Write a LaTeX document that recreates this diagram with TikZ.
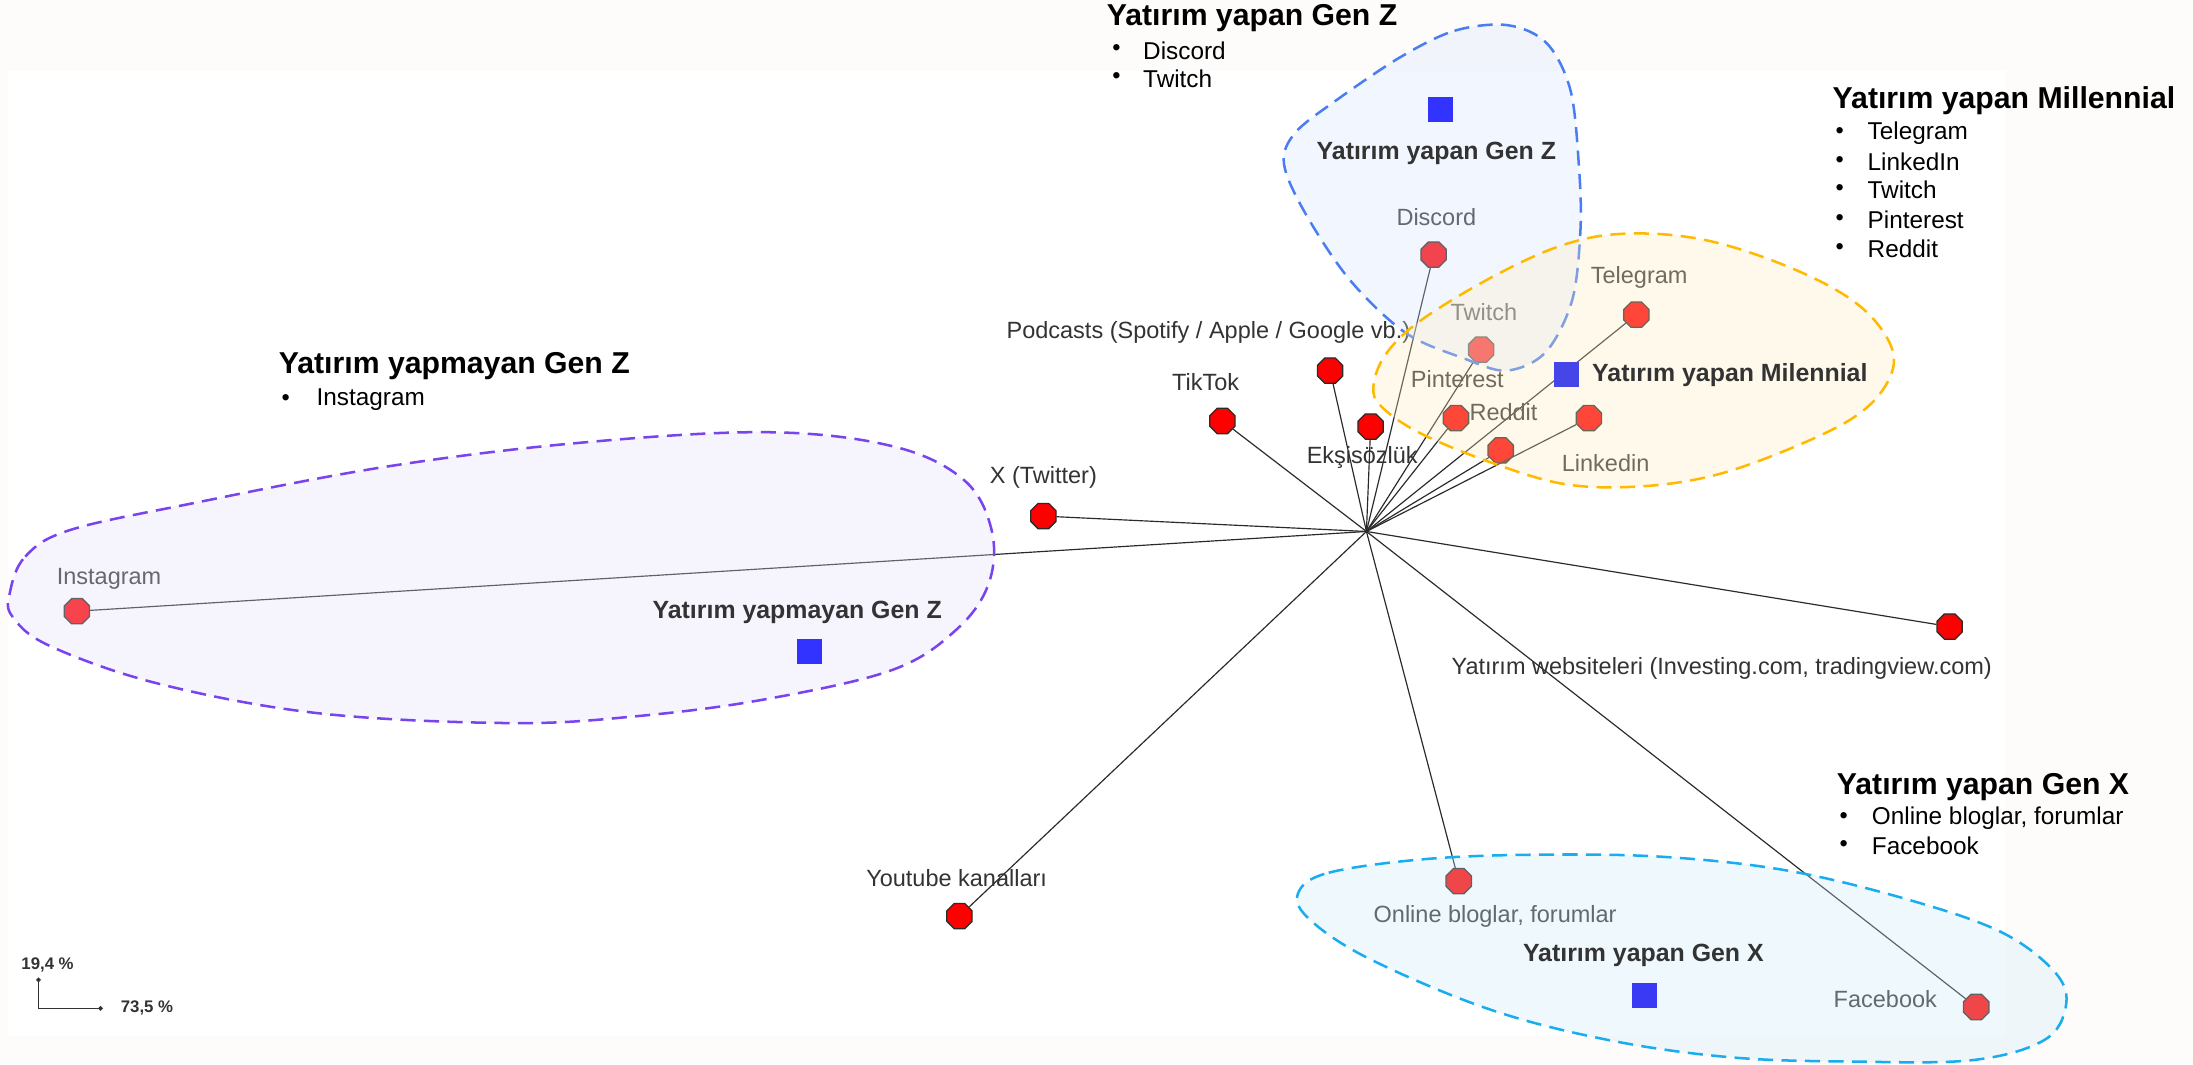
\documentclass[tikz,border=0pt]{standalone}
\usepackage{fontspec}
\setmainfont{Liberation Sans}
\usetikzlibrary{shapes.geometric,arrows.meta}

\definecolor{bgcream}{HTML}{FDFCFA}
\definecolor{edgec}{HTML}{2A2A2A}
\definecolor{lblc}{HTML}{333333}
\definecolor{nodered}{HTML}{FF0000}
\definecolor{sqblue}{HTML}{3333FF}
\definecolor{zline}{HTML}{4A7DF2}
\definecolor{zfill}{RGB}{214,228,252}
\definecolor{mline}{HTML}{FFBA00}
\definecolor{mfill}{RGB}{255,238,192}
\definecolor{pline}{HTML}{7744EE}
\definecolor{pfill}{RGB}{228,222,252}
\definecolor{xline}{HTML}{19ADF0}
\definecolor{xfill}{RGB}{204,234,248}

\tikzset{
  dot/.style={regular polygon, regular polygon sides=8, draw=edgec, fill=nodered, line width=0.45pt, inner sep=0pt, minimum size=9.8pt},
  lbl/.style={font=\fontsize{8.4}{10}\selectfont, text=lblc, inner sep=0pt},
  grp/.style={font=\fontsize{8.9}{11}\selectfont\bfseries, text=lblc, inner sep=0pt},
  sq/.style={rectangle, fill=sqblue, inner sep=0pt, minimum size=9pt},
  link/.style={draw=edgec, line width=0.42pt},
  hdr/.style={font=\fontsize{10.8}{13}\selectfont\bfseries, inner sep=0pt, anchor=west},
  item/.style={font=\fontsize{8.7}{10}\selectfont, inner sep=0pt, anchor=west},
  bul/.style={font=\fontsize{8.4}{10}\selectfont, inner sep=0pt, anchor=west},
  blobfill/.style={fill opacity=0.3},
  blobline/.style={dash pattern=on 5.4pt off 3pt, line width=0.9pt},
  legtxt/.style={font=\fontsize{6}{7}\selectfont\bfseries, text=lblc, inner sep=0pt},
}

\begin{document}
\begin{tikzpicture}[x=0.5pt, y=-0.5pt]
\useasboundingbox (0,0) rectangle (1568,761);
\fill[bgcream] (0,0) rectangle (1568,761);
\fill[white] (6,51) rectangle (1434,741);

% hub
\coordinate (hub) at (977,380);

% nodes
\node[dot] (discord) at (1025,182) {};
\node[dot] (twitch) at (1059,250) {};
\node[dot] (telegram) at (1170,225) {};
\node[dot] (pinterest) at (1041,299) {};
\node[dot] (reddit) at (1073,322) {};
\node[dot] (linkedin) at (1136,299) {};
\node[dot] (podcasts) at (951,265) {};
\node[dot] (tiktok) at (874,301) {};
\node[dot] (eksi) at (980,305) {};
\node[dot] (xtw) at (746,369) {};
\node[dot] (instagram) at (55,437) {};
\node[dot] (websites) at (1394,448) {};
\node[dot] (blogs) at (1043,630) {};
\node[dot] (facebook) at (1413,720) {};
\node[dot] (youtube) at (686,655) {};

% edges
\foreach \n in {discord,twitch,telegram,pinterest,reddit,linkedin,podcasts,tiktok,eksi,xtw,instagram,websites,blogs,facebook,youtube}
  \draw[link] (hub) -- (\n);

% node labels
\node[lbl] (discordL) at (1027,155) {Discord};
\node[lbl] (twitchL) at (1061,223) {Twitch};
\node[lbl] (telegramL) at (1172,198) {Telegram};
\node[lbl] (pinterestL) at (1042,271) {Pinterest};
\node[lbl] (redditL) at (1075,295) {Reddit};
\node[lbl] (linkedinL) at (1148,331) {Linkedin};
\node[lbl] (podcastsL) at (864,238) {Podcasts (Spotify / Apple / Google vb.)};
\node[lbl] (tiktokL) at (862,273) {TikTok};
\node[lbl] (eksiL) at (974,327) {Ekşisözlük};
\node[lbl] (xtwL) at (746,341) {X (Twitter)};
\node[lbl] (instagramL) at (78,414) {Instagram};
\node[lbl] (websitesL) at (1231,478) {Yatırım websiteleri (Investing.com, tradingview.com)};
\node[lbl] (blogsL) at (1069,655) {Online bloglar, forumlar};
\node[lbl] (facebookL) at (1348,714) {Facebook};
\node[lbl] (youtubeL) at (684,628) {Youtube kanalları};

% blobs
\fill[pfill, blobfill] plot[smooth cycle, tension=0.6] coordinates {(7,424) (18,398) (50,379) (137,360) (274,334) (410,317) (547,309) (638,319) (689,343) (709,379) (707,417) (684,450) (638,479) (547,500) (456,512) (365,517) (228,510) (114,489) (36,462) (9,441)};
\draw[pline, blobline] plot[smooth cycle, tension=0.6] coordinates {(7,424) (18,398) (50,379) (137,360) (274,334) (410,317) (547,309) (638,319) (689,343) (709,379) (707,417) (684,450) (638,479) (547,500) (456,512) (365,517) (228,510) (114,489) (36,462) (9,441)};

\fill[zfill, blobfill] plot[smooth cycle, tension=0.55] coordinates {(1001,41) (1040,22) (1078,18) (1106,31) (1123,65) (1129,120) (1130,165) (1124,215) (1105,252) (1077,265) (1046,256) (1005,238) (965,200) (933,152) (918,117) (926,95) (955,72)};
\draw[zline, blobline] plot[smooth cycle, tension=0.55] coordinates {(1001,41) (1040,22) (1078,18) (1106,31) (1123,65) (1129,120) (1130,165) (1124,215) (1105,252) (1077,265) (1046,256) (1005,238) (965,200) (933,152) (918,117) (926,95) (955,72)};

\fill[mfill, blobfill] plot[smooth cycle, tension=0.6] coordinates {(982,276) (991,253) (1016,229) (1067,198) (1118,175) (1164,167) (1221,172) (1284,193) (1330,219) (1353,250) (1348,276) (1323,300) (1272,324) (1221,341) (1169,348) (1118,346) (1067,331) (1016,310) (988,291)};
\draw[mline, blobline] plot[smooth cycle, tension=0.6] coordinates {(982,276) (991,253) (1016,229) (1067,198) (1118,175) (1164,167) (1221,172) (1284,193) (1330,219) (1353,250) (1348,276) (1323,300) (1272,324) (1221,341) (1169,348) (1118,346) (1067,331) (1016,310) (988,291)};

\fill[xfill, blobfill] plot[smooth cycle, tension=0.6] coordinates {(928,639) (950,624) (1022,614) (1109,611) (1195,613) (1281,623) (1367,644) (1432,667) (1470,696) (1477,720) (1461,744) (1410,758) (1324,759) (1238,756) (1152,744) (1066,722) (980,686) (937,658)};
\draw[xline, blobline] plot[smooth cycle, tension=0.6] coordinates {(928,639) (950,624) (1022,614) (1109,611) (1195,613) (1281,623) (1367,644) (1432,667) (1470,696) (1477,720) (1461,744) (1410,758) (1324,759) (1238,756) (1152,744) (1066,722) (980,686) (937,658)};

% group squares and labels
\node[sq] (gzsq) at (1030,78) {};
\node[grp] (gzL) at (1027,110) {Yatırım yapan Gen Z};
\node[sq, fill={rgb,255:red,70;green,70;blue,232}] (milsq) at (1120,268) {};
\node[grp, anchor=west] (milL) at (1138,268) {Yatırım yapan Milennial};
\node[sq] (ngzsq) at (579,466) {};
\node[grp] (ngzL) at (570,438) {Yatırım yapmayan Gen Z};
\node[sq, fill={rgb,255:red,58;green,58;blue,245}] (gxsq) at (1176,712) {};
\node[grp] (gxL) at (1175,683) {Yatırım yapan Gen X};

% headers
\node[hdr] (h1) at (791,13) {Yatırım yapan Gen Z};
\node[bul] (h1b1) at (795,36) {•}; \node[item] (h1i1) at (817,36) {Discord};
\node[bul] (h1b2) at (795,56) {•}; \node[item] (h1i2) at (817,56) {Twitch};

\node[hdr] (h2) at (1310,72) {Yatırım yapan Millennial};
\node[bul] (h2b1) at (1312,95) {•}; \node[item] (h2i1) at (1335,95) {Telegram};
\node[bul] (h2b2) at (1312,116) {•}; \node[item] (h2i2) at (1335,116) {LinkedIn};
\node[bul] (h2b3) at (1312,136) {•}; \node[item] (h2i3) at (1335,136) {Twitch};
\node[bul] (h2b4) at (1312,157) {•}; \node[item] (h2i4) at (1335,157) {Pinterest};
\node[bul] (h2b5) at (1312,178) {•}; \node[item] (h2i5) at (1335,178) {Reddit};

\node[hdr] (h3) at (199,262) {Yatırım yapmayan Gen Z};
\node[bul] (h3b1) at (201,286) {•}; \node[item] (h3i1) at (226,286) {Instagram};

\node[hdr] (h4) at (1313,563) {Yatırım yapan Gen X};
\node[bul] (h4b1) at (1315,585) {•}; \node[item] (h4i1) at (1338,585) {Online bloglar, forumlar};
\node[bul] (h4b2) at (1315,605) {•}; \node[item] (h4i2) at (1338,605) {Facebook};

% scale legend
\coordinate (lo) at (27.5,721);
\coordinate (ly) at (27.5,699);
\coordinate (lx) at (73.5,721);
\draw[line width=0.5pt, draw=lblc, -{Circle[length=1.6pt]}] (lo) -- (ly);
\draw[line width=0.5pt, draw=lblc, -{Circle[length=1.6pt]}] (lo) -- (lx);
\node[legtxt] (lyL) at (34,690) {19,4 \%};
\node[legtxt, anchor=west] (lxL) at (86,721) {73,5 \%};
\end{tikzpicture}
\end{document}
